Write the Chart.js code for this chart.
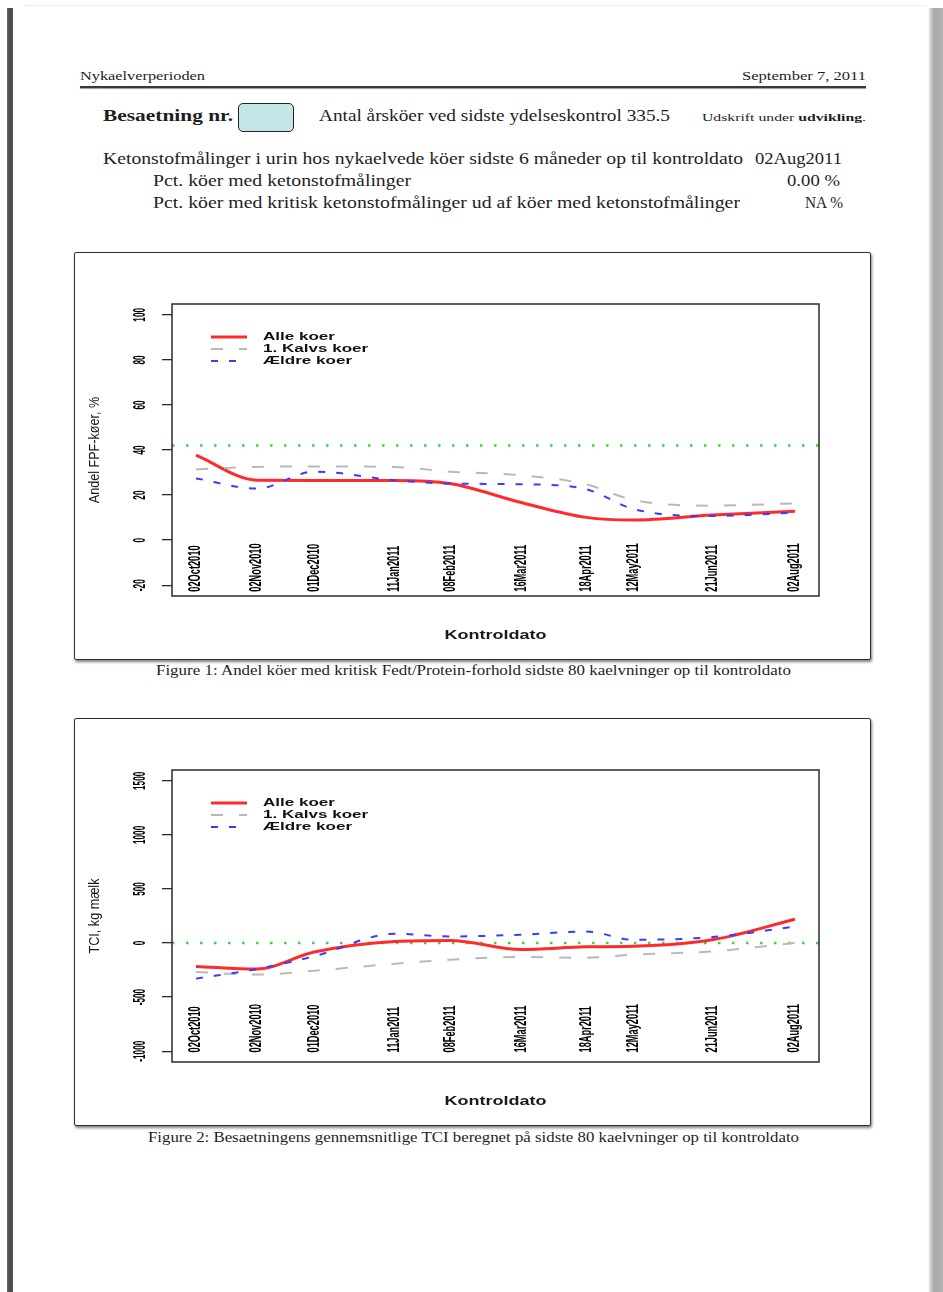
<!DOCTYPE html>
<html>
<head>
<meta charset="utf-8">
<script src="https://cdn.jsdelivr.net/npm/chart.js@4.4.1/dist/chart.umd.min.js"></script>
<style>
  html, body { margin: 0; padding: 0; background: #fff; }
  body { width: 943px; height: 1292px; position: relative; overflow: hidden; font-family: "Liberation Serif", "DejaVu Serif", serif; color: #1e1e1e; }
  .t { position: absolute; white-space: nowrap; line-height: 1; transform-origin: left center; }
  .leftbar { position: absolute; left: 7px; top: 8px; width: 6px; height: 1284px; background: linear-gradient(to right, #6a6a6a, #444 50%, #5a5a5a); }
  .rightbar { position: absolute; left: 929px; top: 8px; width: 14px; height: 1284px; background: linear-gradient(to right, #e4e4e4, #a9a9a9 35%, #b4b4b4); }
  .topline { position: absolute; left: 24px; top: 5px; width: 902px; border-top: 1px dotted #e2e2e2; }
  .rule { position: absolute; left: 80px; top: 86px; width: 786px; height: 2px; background: #3a3a3a; box-shadow: 0 1px 1px #999; }
  .herd { position: absolute; left: 238px; top: 103px; width: 56px; height: 29px; box-sizing: border-box; background: #c4e6e9; border: 1.5px solid #222; border-radius: 5px; }
  .frame { position: absolute; left: 74px; width: 797px; height: 408px; box-sizing: border-box; border: 1px solid #2e2e2e; border-radius: 2px; box-shadow: 1px 2px 3px rgba(0,0,0,0.5); background: #fff; }
  .frame canvas { display: block; }
</style>
</head>
<body>
<div class="topline"></div>
<div class="leftbar"></div>
<div class="rightbar"></div>

<div class="t" style="left:80px;top:69px;font-size:13px" data-w="125">Nykaelverperioden</div>
<div class="t" style="left:742px;top:69px;font-size:13px" data-w="124">September 7, 2011</div>
<div class="rule"></div>

<div class="t" style="left:103px;top:107px;font-size:17px;font-weight:bold" data-w="130">Besaetning nr.</div>
<div class="herd"></div>
<div class="t" style="left:319px;top:108px;font-size:16px" data-w="351">Antal årsköer ved sidste ydelseskontrol 335.5</div>
<div class="t" style="left:702px;top:112px;font-size:11px" data-w="164">Udskrift under <b>udvikling</b>.</div>

<div class="t" style="left:103px;top:151px;font-size:16px" data-w="640">Ketonstofmålinger i urin hos nykaelvede köer sidste 6 måneder op til kontroldato</div>
<div class="t" style="left:755px;top:151px;font-size:16px" data-w="87">02Aug2011</div>
<div class="t" style="left:153px;top:173px;font-size:16px" data-w="258">Pct. köer med ketonstofmålinger</div>
<div class="t" style="left:787px;top:173px;font-size:16px" data-w="53">0.00 %</div>
<div class="t" style="left:153px;top:195px;font-size:16px" data-w="587">Pct. köer med kritisk ketonstofmålinger ud af köer med ketonstofmålinger</div>
<div class="t" style="left:805px;top:195px;font-size:16px" data-w="38">NA %</div>

<div class="frame" style="top:252px"><canvas id="fpfChart" width="795" height="406"></canvas></div>
<div class="t" style="left:156px;top:664px;font-size:14px" data-w="635">Figure 1: Andel köer med kritisk Fedt/Protein-forhold sidste 80 kaelvninger op til kontroldato</div>

<div class="frame" style="top:718px"><canvas id="tciChart" width="795" height="406"></canvas></div>
<div class="t" style="left:148px;top:1131px;font-size:14px" data-w="651">Figure 2: Besaetningens gennemsnitlige TCI beregnet på sidste 80 kaelvninger op til kontroldato</div>

<script>
// control dates shared by both plots
const controlDates = ["02Oct2010", "02Nov2010", "01Dec2010", "11Jan2011", "08Feb2011",
                      "16Mar2011", "18Apr2011", "12May2011", "21Jun2011", "02Aug2011"];
const seriesNames = ["Alle koer", "1. Kalvs koer", "Ældre koer"];

// Andel FPF-koer, %
const fpfAlle   = [37.7, 26.6, 26.5, 26.5, 25.1, 16.7, 10.1, 8.9, 11.1, 12.8];
const fpfKalv1  = [31.4, 32.5, 32.7, 32.4, 30.4, 28.8, 24.8, 17.8, 15.3, 16.3];
const fpfAeldre = [27.4, 22.9, 30.4, 26.6, 25.1, 24.8, 22.6, 13.8, 10.7, 12.2];
const fpfTicks  = [-20, 0, 20, 40, 60, 80, 100];
const fpfLimit  = 42;

// TCI, kg maelk
const tciAlle   = [-216, -240, -83, 15, 24, -60, -35, -30, 30, 220];
const tciKalv1  = [-268, -292, -256, -191, -154, -129, -136, -108, -77, 0];
const tciAeldre = [-329, -240, -123, 86, 61, 77, 107, 30, 55, 153];
const tciTicks  = [-1000, -500, 0, 500, 1000, 1500];
const tciLimit  = 0;

const MONTHS = {Jan: 0, Feb: 1, Mar: 2, Apr: 3, May: 4, Jun: 5, Jul: 6, Aug: 7, Sep: 8, Oct: 9, Nov: 10, Dec: 11};
function dayOf(s) {
  return Date.UTC(+s.slice(5), MONTHS[s.slice(2, 5)], +s.slice(0, 2)) / 864e5;
}
const day0 = dayOf(controlDates[0]);
const xDays = controlDates.map(d => dayOf(d) - day0);

const seriesStyle = [
  { color: "#ff2b2b", width: 3, dash: [], order: 3 },
  { color: "#b9b9b9", width: 2, dash: [12, 16], order: 2 },
  { color: "#3b3bff", width: 2, dash: [7, 11], order: 1 }
];

// text helper: rotate, then stretch along (sx) and across (sy) the text
function stretchText(ctx, text, x, y, rot, sx, sy, align) {
  ctx.save();
  ctx.translate(x, y);
  ctx.rotate(rot);
  ctx.scale(sx, sy);
  ctx.textAlign = align;
  ctx.textBaseline = "middle";
  ctx.fillText(text, 0, 0);
  ctx.restore();
}

// R-like decorations: box, reference line, rotated labels, inset legend
const rPlot = {
  id: "rPlot",
  beforeDatasetsDraw(chart, args, opts) {
    const { ctx, chartArea: a, scales: { y } } = chart;
    const yp = y.getPixelForValue(opts.refLine);
    ctx.save();
    ctx.strokeStyle = "#3fd43f";
    ctx.lineWidth = 2.5;
    ctx.setLineDash([2.5, 11.5]);
    ctx.beginPath();
    ctx.moveTo(a.left, yp);
    ctx.lineTo(a.right, yp);
    ctx.stroke();
    ctx.restore();
  },
  afterDraw(chart, args, opts) {
    const { ctx, chartArea: a, scales: { x, y } } = chart;
    ctx.save();
    ctx.strokeStyle = "#2b2b2b";
    ctx.lineWidth = 1.5;
    ctx.strokeRect(a.left, a.top, a.right - a.left, a.bottom - a.top);

    ctx.fillStyle = "#000";
    ctx.font = "bold 11px 'Liberation Sans', Arial, sans-serif";
    y.ticks.forEach(t => {
      stretchText(ctx, String(t.value), a.left - 32, y.getPixelForValue(t.value), -Math.PI / 2, 0.75, 1.5, "center");
    });
    const yb = y.getPixelForValue(opts.dateBase);
    controlDates.forEach((d, i) => {
      stretchText(ctx, d, x.getPixelForValue(xDays[i]), yb, -Math.PI / 2, 0.84, 1.45, "left");
    });

    ctx.fillStyle = "#1a1a1a";
    ctx.font = "12px 'Liberation Sans', Arial, sans-serif";
    stretchText(ctx, opts.yTitle, 20, (a.top + a.bottom) / 2, -Math.PI / 2, 1.05, 1.2, "center");
    ctx.font = "bold 12px 'Liberation Sans', Arial, sans-serif";
    stretchText(ctx, "Kontroldato", (a.left + a.right) / 2, 383, 0, 1.5, 1.0, "center");

    // legend
    chart.data.datasets.forEach((ds, i) => {
      const ly = a.top + 33 + i * 12;
      ctx.strokeStyle = ds.borderColor;
      ctx.lineWidth = ds.borderWidth;
      ctx.setLineDash(ds.borderDash);
      ctx.beginPath();
      ctx.moveTo(a.left + 39, ly);
      ctx.lineTo(a.left + 75, ly);
      ctx.stroke();
      ctx.setLineDash([]);
      ctx.fillStyle = "#111";
      stretchText(ctx, ds.label, a.left + 91, ly, 0, 1.42, 0.95, "left");
    });
    ctx.restore();
  }
};

function makeChart(id, values, yTicks, refLine, yTitle, dateBase) {
  const span = yTicks[yTicks.length - 1] - yTicks[0];
  const xSpan = xDays[xDays.length - 1];
  return new Chart(document.getElementById(id), {
    type: "line",
    data: {
      datasets: values.map((vals, i) => ({
        label: seriesNames[i],
        data: vals.map((v, j) => ({ x: xDays[j], y: v })),
        borderColor: seriesStyle[i].color,
        borderWidth: seriesStyle[i].width,
        borderDash: seriesStyle[i].dash,
        order: seriesStyle[i].order,
        pointRadius: 0,
        fill: false,
        cubicInterpolationMode: "monotone"
      }))
    },
    options: {
      responsive: false,
      animation: false,
      devicePixelRatio: 1,
      events: [],
      layout: { padding: { top: 51, right: 51, left: 0, bottom: 0 } },
      plugins: {
        legend: { display: false },
        tooltip: { enabled: false },
        rPlot: { refLine, yTitle, dateBase }
      },
      scales: {
        x: {
          type: "linear",
          min: -0.04 * xSpan,
          max: xSpan * 1.04,
          ticks: { display: false },
          grid: { display: false },
          border: { display: false },
          afterFit: s => { s.height = 63; }
        },
        y: {
          type: "linear",
          min: yTicks[0] - 0.04 * span,
          max: yTicks[yTicks.length - 1] + 0.04 * span,
          afterBuildTicks: s => { s.ticks = yTicks.map(v => ({ value: v })); },
          ticks: { display: false },
          grid: { drawOnChartArea: false, drawTicks: true, tickLength: 10, color: "#2b2b2b", lineWidth: 1.3 },
          border: { display: false },
          afterFit: s => { s.width = 97; }
        }
      }
    },
    plugins: [rPlot]
  });
}

makeChart("fpfChart", [fpfAlle, fpfKalv1, fpfAeldre], fpfTicks, fpfLimit, "Andel FPF-køer, %", -22.9);
makeChart("tciChart", [tciAlle, tciKalv1, tciAeldre], tciTicks, tciLimit, "TCI, kg mælk", -1012);

// stretch the page texts to their set widths
document.querySelectorAll("[data-w]").forEach(el => {
  const w = el.getBoundingClientRect().width;
  el.style.transform = `scaleX(${el.dataset.w / w})`;
});
</script>
</body>
</html>
